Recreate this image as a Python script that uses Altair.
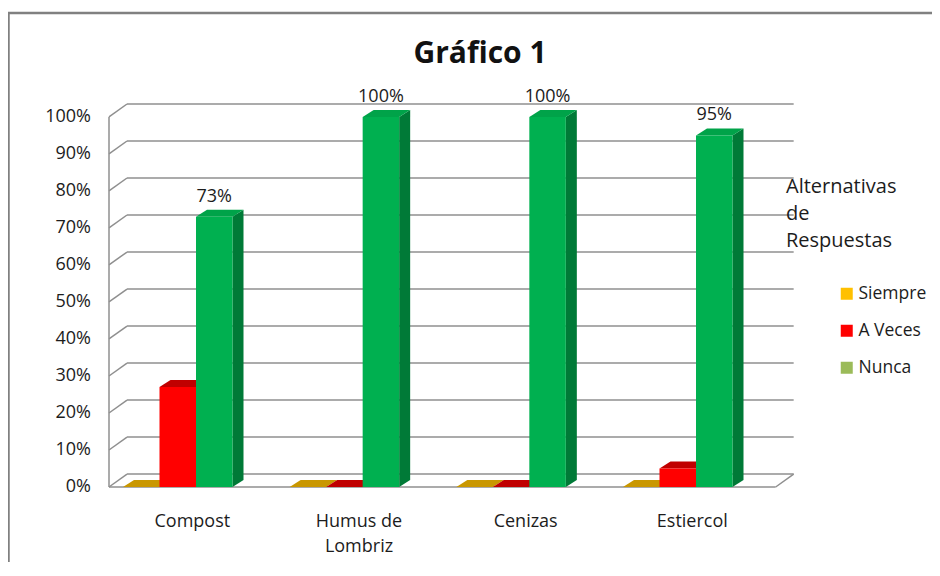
import altair as alt
import pandas as pd

# ---------------- data ----------------
categories = ["Compost", "Humus de\nLombriz", "Cenizas", "Estiercol"]
series_names = ["Siempre", "A Veces", "Nunca"]
siempre = [0, 0, 0, 0]          # percent
a_veces = [27, 0, 0, 5]         # percent
nunca = [73, 100, 100, 95]      # percent
labeled_series = ["Nunca"]
y_tick_values = [0, 10, 20, 30, 40, 50, 60, 70, 80, 90, 100]
chart_title = "Gráfico 1"
legend_title = ["Alternativas", "de", "Respuestas"]

# ---------------- style ----------------
front_colors = ["#FFC000", "#FF0000", "#00B050"]
top_colors = ["#C99700", "#C00000", "#00A349"]
side_colors = ["#A67C00", "#A00000", "#007A37"]
legend_colors = ["#FFC000", "#FF0000", "#9BBB59"]
GRID = "#8f8f8f"
TEXT = "#1c1c1c"
FONT = "Open Sans"

PLOT_W, PLOT_H = 685, 383
X_MAX, Y_MAX = 4.11, 1.035          # category units / fraction units
WALL_DX, WALL_DY = 0.108, 0.035     # depth offset of back wall
BAR_DX, BAR_DY = 0.066, 0.019       # depth of bars
GROUP_START, BAR_W = 0.084, 0.219

values = [[p / 100 for p in s] for s in (siempre, a_veces, nunca)]
ticks = [t / 100 for t in y_tick_values]
n_cat = len(categories)

xs = alt.Scale(domain=[0, X_MAX], nice=False, zero=False)
ys = alt.Scale(domain=[0, Y_MAX], nice=False, zero=False)

# ---------------- walls / grid ----------------
seg = []
for v in ticks:
    seg.append(dict(x=WALL_DX, x2=n_cat + WALL_DX, y=v + WALL_DY, y2=v + WALL_DY))
    seg.append(dict(x=0, x2=WALL_DX, y=v, y2=v + WALL_DY))
seg.append(dict(x=0, x2=n_cat, y=0, y2=0))
seg.append(dict(x=n_cat, x2=n_cat + WALL_DX, y=0, y2=WALL_DY))
seg.append(dict(x=0, x2=0, y=0, y2=max(ticks)))
seg_df = pd.DataFrame(seg)

grid_layer = alt.Chart(seg_df).mark_rule(color=GRID, strokeWidth=1.5).encode(
    x=alt.X("x:Q", scale=xs, axis=alt.Axis(
        values=list(range(n_cat + 1)), title=None, domain=False, grid=False,
        tickSize=6, tickColor=GRID, tickWidth=1.5, labels=False)),
    x2="x2:Q",
    y=alt.Y("y:Q", scale=ys, axis=alt.Axis(
        values=ticks, title=None, domain=False, grid=False,
        tickSize=8, tickColor=GRID, tickWidth=1.5, labels=False)),
    y2="y2:Q",
)

# ---------------- axis labels ----------------
ylab_df = pd.DataFrame({"y": ticks, "t": [f"{t}%" for t in y_tick_values]})
ylab_layer = alt.Chart(ylab_df).mark_text(
    baseline="middle", align="right", fontSize=18, color=TEXT, font=FONT,
).encode(
    x=alt.value(-18),
    y=alt.Y("y:Q", scale=ys, axis=None),
    text="t:N",
)

cat_df = pd.DataFrame({"x": [i + 0.5 for i in range(n_cat)], "cat": categories})
cat_layer = alt.Chart(cat_df).mark_text(
    baseline="alphabetic", align="center", fontSize=18, color=TEXT, font=FONT,
    lineBreak="\n", lineHeight=25,
).encode(
    x=alt.X("x:Q", scale=xs, axis=None),
    y=alt.value(PLOT_H + 40),
    text="cat:N",
)

# ---------------- 3D bar faces ----------------
sides, tops, fronts = [], [], []
for j, name in enumerate(series_names):
    for i in range(n_cat):
        v = values[j][i]
        xl = i + GROUP_START + j * BAR_W
        xr = xl + BAR_W
        fid = f"{j}-{i}"
        sides += [dict(f=fid, x=xr, y=0, y2=v, c=side_colors[j]),
                  dict(f=fid, x=xr + BAR_DX, y=BAR_DY, y2=v + BAR_DY, c=side_colors[j])]
        tops += [dict(f=fid, x=xl, y=v, y2=v, c=top_colors[j]),
                 dict(f=fid, x=xl + BAR_DX, y=v, y2=v + BAR_DY, c=top_colors[j]),
                 dict(f=fid, x=xr, y=v, y2=v + BAR_DY, c=top_colors[j]),
                 dict(f=fid, x=xr + BAR_DX, y=v + BAR_DY, y2=v + BAR_DY, c=top_colors[j])]
        fronts += [dict(f=fid, x=xl, y=0, y2=v, c=front_colors[j]),
                   dict(f=fid, x=xr, y=0, y2=v, c=front_colors[j])]


def face_layer(rows):
    return alt.Chart(pd.DataFrame(rows)).mark_area(interpolate="linear", opacity=1).encode(
        x=alt.X("x:Q", scale=xs, axis=None),
        y=alt.Y("y:Q", scale=ys, axis=None),
        y2="y2:Q",
        detail="f:N",
        fill=alt.Fill("c:N", scale=None),
    )


# ---------------- data labels ----------------
lab = []
for j, name in enumerate(series_names):
    if name in labeled_series:
        for i in range(n_cat):
            v = values[j][i]
            lab.append(dict(x=i + GROUP_START + j * BAR_W + BAR_W / 2, y=v,
                            t=f"{round(v * 100)}%"))
label_layer = alt.Chart(pd.DataFrame(lab)).mark_text(
    dy=-15, baseline="alphabetic", align="center", fontSize=18, color=TEXT, font=FONT
).encode(
    x=alt.X("x:Q", scale=xs, axis=None),
    y=alt.Y("y:Q", scale=ys, axis=None),
    text="t:N",
)

# ---------------- title ----------------
title_layer = alt.Chart(pd.DataFrame({"t": [chart_title]})).mark_text(
    baseline="alphabetic", align="center", fontSize=30, fontWeight="bold",
    color="#111111", font=FONT,
).encode(x=alt.value(371), y=alt.value(-41), text="t:N")

# ---------------- legend ----------------
legend_layer = alt.Chart(pd.DataFrame({"serie": series_names})).mark_square(opacity=0).encode(
    color=alt.Color("serie:N", sort=series_names,
                    scale=alt.Scale(domain=series_names, range=legend_colors),
                    legend=alt.Legend(
                        title=legend_title, orient="none", legendX=677, legendY=73,
                        titleFontSize=20, titleFontWeight="normal", titleColor=TEXT,
                        titleLineHeight=27, titleBaseline="top", titlePadding=34, titleFont=FONT,
                        labelFontSize=17.5, labelColor=TEXT, labelFont=FONT, labelOffset=3,
                        symbolType="square", symbolSize=144, symbolOpacity=1,
                        symbolStrokeWidth=0, symbolOffset=52, rowPadding=18, padding=0)),
)

# ---------------- outer frame ----------------
frame_df = pd.DataFrame({"k": [0]})
frame_left = alt.Chart(frame_df).mark_rule(color="#808080", strokeWidth=2.5).encode(
    x=alt.value(-100.5), y=alt.value(-91), y2=alt.value(PLOT_H + 100))
frame_top = alt.Chart(frame_df).mark_rule(color="#808080", strokeWidth=2.5).encode(
    x=alt.value(-101.5), x2=alt.value(PLOT_W + 200), y=alt.value(-91))

chart = alt.layer(
    grid_layer, face_layer(sides), face_layer(tops), face_layer(fronts),
    label_layer, ylab_layer, cat_layer, title_layer, legend_layer, frame_left, frame_top,
).properties(
    width=PLOT_W, height=PLOT_H,
    autosize=alt.AutoSizeParams(type="none"),
    padding={"left": 101, "top": 96, "right": 138, "bottom": 75},
).configure(font=FONT).configure_view(stroke=None)

chart.save("out.html", embed_options={"renderer": "svg", "actions": False})
